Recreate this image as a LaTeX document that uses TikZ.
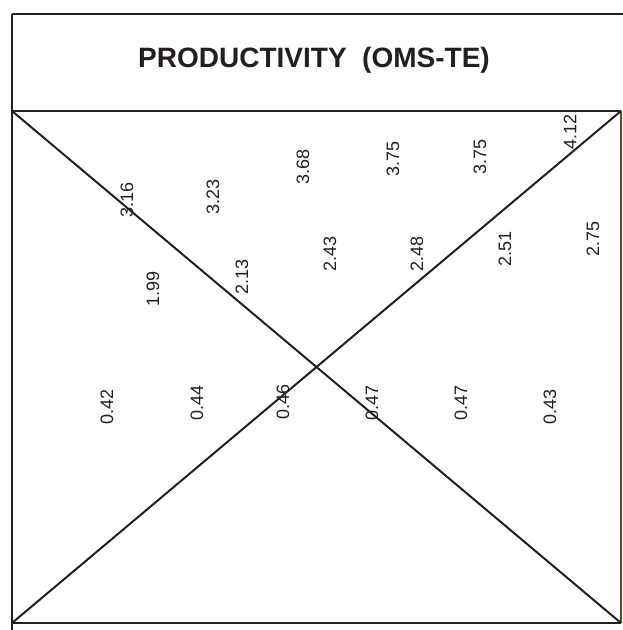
\documentclass[tikz,border=0pt]{standalone}
\usepackage{fontspec}
\setmainfont{Liberation Sans}
\usepackage{xcolor}
\usepackage{tikz}
\usetikzlibrary{positioning}
\definecolor{FrameInk}{RGB}{35,31,32}
\definecolor{EdgeOlive}{RGB}{95,80,30}

\begin{document}
\begin{tikzpicture}[x=1pt, y=-1pt,
		frame/.style={line width=2.3pt, FrameInk},
		diag/.style={line width=2pt, FrameInk},
		wert/.style={rotate=90, inner sep=0pt, font=\fontsize{18}{20}\selectfont, text=FrameInk}]
		\useasboundingbox (0,0) rectangle (623,630);
		
		% 框的角点
		\coordinate (TL) at (12,111);
		\coordinate (TR) at (621,111);
		\coordinate (BL) at (12,623);
		\coordinate (BR) at (621,623);
		\coordinate (HL) at (12,14);
		\coordinate (HR) at (623,14);
		\coordinate (LE) at (12,630);
		
		% 外框
		\draw[frame] (HL) -- (HR);
		\draw[frame] (HL) -- (LE);
		\draw[frame] (TL) -- (TR);
		\draw[frame] (BL) -- (BR);
		\draw[line width=1.8pt, EdgeOlive] (TR) -- (BR);
		
		% 对角线
		\draw[diag] (TL) -- (BR);
		\draw[diag] (BL) -- (TR);
		
		% 标题
		\node[anchor=base, font=\bfseries\fontsize{28}{30}\selectfont, text=FrameInk] (title) at (314,67) {PRODUCTIVITY\ \ (OMS-TE)};
		
		% 上排
		\node[wert] (a1) at (127,200) {3.16};
		\node[wert] (a2) at (213,197) {3.23};
		\node[wert] (a3) at (303,167) {3.68};
		\node[wert] (a4) at (393,159) {3.75};
		\node[wert] (a5) at (480,157) {3.75};
		\node[wert] (a6) at (570,132) {4.12};
		
		% 中排
		\node[wert] (b1) at (153,289) {1.99};
		\node[wert] (b2) at (242,277) {2.13};
		\node[wert] (b3) at (330,254) {2.43};
		\node[wert] (b4) at (417,254) {2.48};
		\node[wert] (b5) at (505,249) {2.51};
		\node[wert] (b6) at (593,239) {2.75};
		
		% 下排
		\node[wert] (c1) at (107,407) {0.42};
		\node[wert] (c2) at (197,403) {0.44};
		\node[wert] (c3) at (283,402) {0.46};
		\node[wert] (c4) at (372,403) {0.47};
		\node[wert] (c5) at (461,403) {0.47};
		\node[wert] (c6) at (550,407) {0.43};
	\end{tikzpicture}
\end{document}
